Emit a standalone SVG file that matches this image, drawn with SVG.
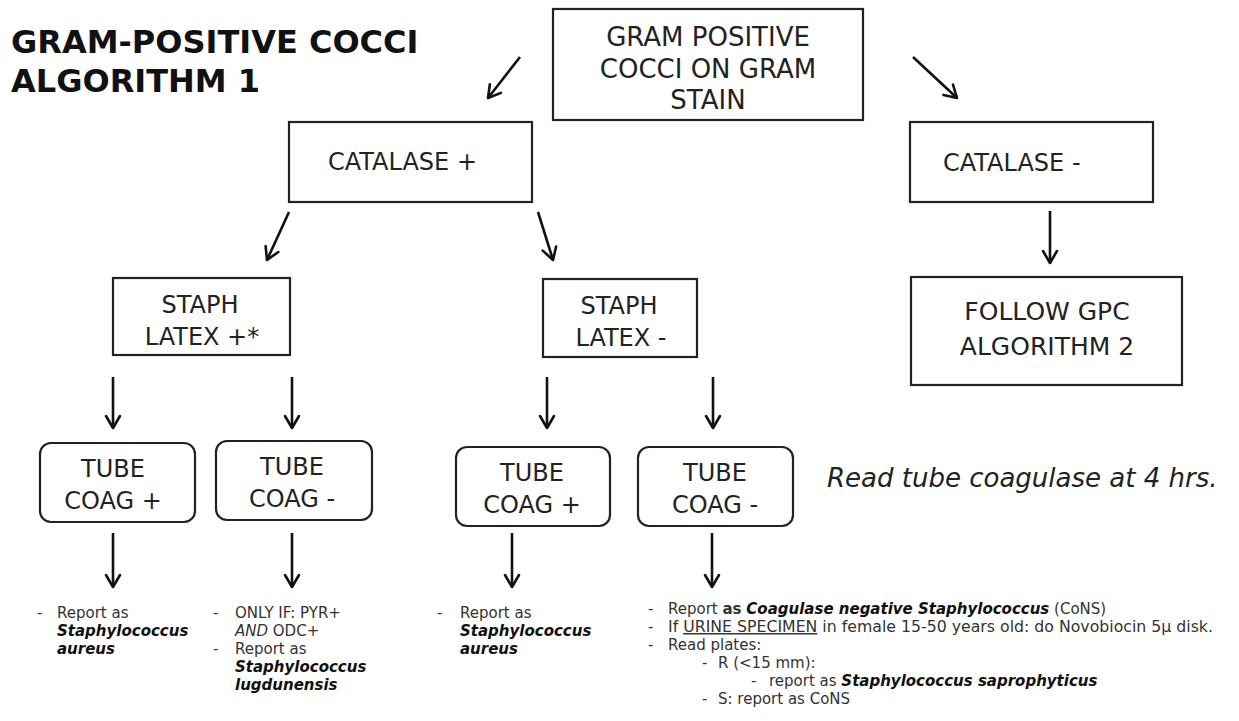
<svg xmlns="http://www.w3.org/2000/svg" width="1239" height="721" viewBox="0 0 1239 721">
<defs>
<marker id="ah" markerUnits="userSpaceOnUse" markerWidth="16" markerHeight="18" viewBox="0 0 16 18" refX="14" refY="9" orient="auto">
<path d="M2,2 L14,9 L2,16" fill="none" stroke="#111" stroke-width="2.6" stroke-linecap="round" stroke-linejoin="round"/>
</marker>
<style>
.box{fill:#fff;stroke:#222;stroke-width:2.2}
.bt{font-family:"DejaVu Sans",sans-serif;font-size:24px;fill:#222;text-anchor:middle}
.big{font-size:26px}
.title{font-family:"DejaVu Sans",sans-serif;font-weight:bold;font-size:32px;fill:#111}
.note{font-family:"DejaVu Sans",sans-serif;font-style:italic;font-size:26px;fill:#222}
.sm{font-family:"DejaVu Sans",sans-serif;font-size:15px;fill:#333}
.bi{font-weight:bold;font-style:italic;fill:#111}
.b{font-weight:bold}
.i{font-style:italic}
.u{text-decoration:underline}
.cn line{stroke:#111;stroke-width:2.6;marker-end:url(#ah)}
</style>
</defs>
<rect width="1239" height="721" fill="#fff"/>

<g id="title">
<text class="title" x="11" y="53">GRAM-POSITIVE COCCI</text>
<text class="title" x="11" y="92">ALGORITHM 1</text>
</g>

<g id="n-gram">
<rect class="box" x="553" y="9" width="310" height="111"/>
<text class="bt big" x="708" y="46">GRAM POSITIVE</text>
<text class="bt big" x="708" y="78">COCCI ON GRAM</text>
<text class="bt big" x="708" y="109">STAIN</text>
</g>

<g id="n-catpos">
<rect class="box" x="289" y="122" width="243" height="80"/>
<text class="bt" x="328" y="170" style="text-anchor:start">CATALASE +</text>
</g>

<g id="n-catneg">
<rect class="box" x="910" y="122" width="243" height="80"/>
<text class="bt" x="943" y="171" style="text-anchor:start">CATALASE -</text>
</g>

<g id="n-latexpos">
<rect class="box" x="113" y="278" width="177" height="77"/>
<text class="bt" x="200" y="313">STAPH</text>
<text class="bt" x="202" y="345">LATEX +*</text>
</g>

<g id="n-latexneg">
<rect class="box" x="543" y="279" width="154" height="78"/>
<text class="bt" x="619" y="314">STAPH</text>
<text class="bt" x="621" y="346">LATEX -</text>
</g>

<g id="n-gpc2">
<rect class="box" x="911" y="277" width="271" height="108"/>
<text class="bt" x="1047" y="320" style="font-size:25px">FOLLOW GPC</text>
<text class="bt" x="1047" y="355" style="font-size:25px">ALGORITHM 2</text>
</g>

<g id="n-tube1">
<rect class="box" x="40" y="443" width="155" height="79" rx="11"/>
<text class="bt" x="113" y="477">TUBE</text>
<text class="bt" x="113" y="509">COAG +</text>
</g>

<g id="n-tube2">
<rect class="box" x="216" y="441" width="156" height="79" rx="11"/>
<text class="bt" x="292" y="475">TUBE</text>
<text class="bt" x="292" y="507">COAG -</text>
</g>

<g id="n-tube3">
<rect class="box" x="456" y="447" width="154" height="79" rx="11"/>
<text class="bt" x="532" y="481">TUBE</text>
<text class="bt" x="532" y="513">COAG +</text>
</g>

<g id="n-tube4">
<rect class="box" x="638" y="447" width="155" height="79" rx="11"/>
<text class="bt" x="715" y="481">TUBE</text>
<text class="bt" x="715" y="513">COAG -</text>
</g>

<g id="n-note">
<text class="note" x="827" y="487">Read tube coagulase at 4 hrs.</text>
</g>

<g id="connectors" class="cn">
<line x1="520" y1="57" x2="488" y2="98"/>
<line x1="913" y1="57" x2="957" y2="98"/>
<line x1="289" y1="212" x2="267" y2="260"/>
<line x1="538" y1="212" x2="553" y2="260"/>
<line x1="1050" y1="211" x2="1050" y2="263"/>
<line x1="113" y1="377" x2="113" y2="428"/>
<line x1="292" y1="377" x2="292" y2="428"/>
<line x1="547" y1="377" x2="547" y2="428"/>
<line x1="713" y1="377" x2="713" y2="428"/>
<line x1="113" y1="533" x2="113" y2="587"/>
<line x1="292" y1="533" x2="292" y2="587"/>
<line x1="512" y1="533" x2="512" y2="587"/>
<line x1="712" y1="533" x2="712" y2="587"/>
</g>

<g id="r-tube1">
<text class="sm" x="37" y="618">-</text>
<text class="sm" x="57" y="618">Report as</text>
<text class="sm bi" x="57" y="636">Staphylococcus</text>
<text class="sm bi" x="57" y="654">aureus</text>
</g>

<g id="r-tube2">
<text class="sm" x="213" y="618">-</text>
<text class="sm" x="235" y="618">ONLY IF: PYR+</text>
<text class="sm" x="235" y="636"><tspan class="i">AND</tspan> ODC+</text>
<text class="sm" x="213" y="654">-</text>
<text class="sm" x="235" y="654">Report as</text>
<text class="sm bi" x="235" y="672">Staphylococcus</text>
<text class="sm bi" x="235" y="690">lugdunensis</text>
</g>

<g id="r-tube3">
<text class="sm" x="437" y="618">-</text>
<text class="sm" x="460" y="618">Report as</text>
<text class="sm bi" x="460" y="636">Staphylococcus</text>
<text class="sm bi" x="460" y="654">aureus</text>
</g>

<g id="r-tube4">
<text class="sm" x="648" y="614">-</text>
<text class="sm" x="668" y="614">Report <tspan class="b">as</tspan> <tspan class="bi">Coagulase negative Staphylococcus</tspan> (CoNS)</text>
<text class="sm" x="648" y="632">-</text>
<text class="sm" x="668" y="632" textLength="545" lengthAdjust="spacingAndGlyphs">If <tspan class="u">URINE SPECIMEN</tspan> in female 15-50 years old: do Novobiocin 5µ disk.</text>
<text class="sm" x="648" y="650">-</text>
<text class="sm" x="668" y="650">Read plates:</text>
<text class="sm" x="702" y="668">-</text>
<text class="sm" x="718" y="668">R (&lt;15 mm):</text>
<text class="sm" x="751" y="686">-</text>
<text class="sm" x="769" y="686">report as <tspan class="bi">Staphylococcus saprophyticus</tspan></text>
<text class="sm" x="702" y="704">-</text>
<text class="sm" x="718" y="704">S: report as CoNS</text>
</g>
</svg>
